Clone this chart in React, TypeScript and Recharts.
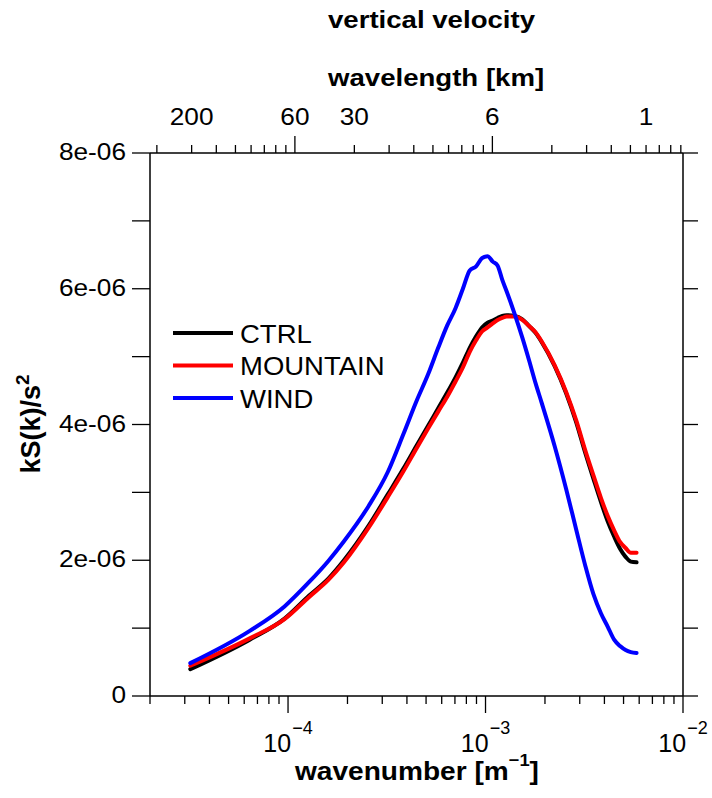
import React from 'react';
import { LineChart, Line, XAxis, YAxis } from 'recharts';

// wavenumber k [m^-1]
const kValues = [
  3.2e-5, 6.4e-5, 9.6e-5, 1.28e-4, 1.6e-4, 1.92e-4, 2.56e-4, 3.2e-4, 3.84e-4, 4.48e-4,
  5.12e-4, 5.76e-4, 6.4e-4, 7.04e-4, 7.68e-4, 8.32e-4, 8.96e-4, 9.6e-4, 1.024e-3, 1.088e-3,
  1.152e-3, 1.216e-3, 1.28e-3, 1.408e-3, 1.536e-3, 1.664e-3, 1.792e-3, 1.92e-3, 2.24e-3, 2.56e-3,
  2.88e-3, 3.2e-3, 3.52e-3, 3.84e-3, 4.16e-3, 4.48e-3, 4.8e-3, 5.12e-3, 5.44e-3, 5.82e-3,
];

const ctrl = [
  0.395e-6, 0.83e-6, 1.14e-6, 1.48e-6, 1.73e-6, 2.0e-6, 2.51e-6, 2.97e-6, 3.35e-6, 3.69e-6,
  3.98e-6, 4.24e-6, 4.47e-6, 4.69e-6, 4.91e-6, 5.13e-6, 5.3e-6, 5.43e-6, 5.5e-6, 5.53e-6,
  5.57e-6, 5.6e-6, 5.61e-6, 5.6e-6, 5.55e-6, 5.45e-6, 5.35e-6, 5.22e-6, 4.86e-6, 4.46e-6,
  4.03e-6, 3.58e-6, 3.2e-6, 2.86e-6, 2.57e-6, 2.35e-6, 2.17e-6, 2.05e-6, 1.98e-6, 1.97e-6,
];

const mountain = [
  0.446e-6, 0.849e-6, 1.132e-6, 1.46e-6, 1.71e-6, 1.97e-6, 2.48e-6, 2.93e-6, 3.31e-6, 3.65e-6,
  3.94e-6, 4.19e-6, 4.41e-6, 4.63e-6, 4.84e-6, 5.07e-6, 5.24e-6, 5.37e-6, 5.43e-6, 5.49e-6,
  5.54e-6, 5.57e-6, 5.59e-6, 5.59e-6, 5.54e-6, 5.45e-6, 5.36e-6, 5.23e-6, 4.87e-6, 4.48e-6,
  4.06e-6, 3.62e-6, 3.25e-6, 2.92e-6, 2.65e-6, 2.44e-6, 2.27e-6, 2.18e-6, 2.11e-6, 2.11e-6,
];

const wind = [
  0.485e-6, 0.96e-6, 1.32e-6, 1.68e-6, 1.99e-6, 2.28e-6, 2.8e-6, 3.3e-6, 3.86e-6, 4.35e-6,
  4.74e-6, 5.13e-6, 5.46e-6, 5.71e-6, 6.0e-6, 6.27e-6, 6.33e-6, 6.45e-6, 6.48e-6, 6.4e-6,
  6.34e-6, 6.13e-6, 5.96e-6, 5.62e-6, 5.28e-6, 4.94e-6, 4.61e-6, 4.33e-6, 3.68e-6, 3.05e-6,
  2.45e-6, 1.92e-6, 1.5e-6, 1.22e-6, 1.02e-6, 0.83e-6, 0.735e-6, 0.677e-6, 0.647e-6, 0.632e-6,
];

const seriesNames = ['CTRL', 'MOUNTAIN', 'WIND'];
const seriesColors = ['#000000', '#ff0000', '#0000ff'];
const seriesKeys = ['ctrl', 'mountain', 'wind'];

// bottom axis ticks (wavenumber)
const bottomTicks = [
  2e-5, 3e-5, 4e-5, 5e-5, 6e-5, 7e-5, 8e-5, 9e-5, 1e-4,
  2e-4, 3e-4, 4e-4, 5e-4, 6e-4, 7e-4, 8e-4, 9e-4, 1e-3,
  2e-3, 3e-3, 4e-3, 5e-3, 6e-3, 7e-3, 8e-3, 9e-3, 1e-2,
];
const bottomExponents = ['', '', '', '', '', '', '', '', '−4', '', '', '', '', '', '', '', '', '−3', '', '', '', '', '', '', '', '', '−2'];

// top axis ticks (wavelength in km)
const topWavelengths = [
  300, 200, 150, 120, 100, 85.71, 75, 66.67, 60,
  30, 20, 15, 12, 10, 8.571, 7.5, 6.667, 6,
  3, 2, 1.5, 1.2, 1, 0.8571, 0.75, 0.6667,
];
const topLabels = ['', '200', '', '', '', '', '', '', '60', '30', '', '', '', '', '', '', '', '6', '', '', '', '', '1', '', '', ''];
const topMajor = [false, false, false, false, false, false, false, false, true, false, false, false, false, false, false, false, false, true, false, false, false, false, false, false, false, false];
const K_PER_INV_KM = 6.5e-3; // k [m^-1] = K_PER_INV_KM / wavelength[km]
const topTicks = topWavelengths.map((w) => K_PER_INV_KM / w);

// y axis
const yTicks = [0, 1e-6, 2e-6, 3e-6, 4e-6, 5e-6, 6e-6, 7e-6, 8e-6];
const yTickLabels = ['0', '', '2e-06', '', '4e-06', '', '6e-06', '', '8e-06'];

const data = kValues.map((k, i) => ({ k, ctrl: ctrl[i], mountain: mountain[i], wind: wind[i] }));

const FONT = 'Liberation Sans, Arial, Helvetica, sans-serif';

const BottomTick = (props: any) => {
  const { x, y, index } = props;
  const exp = bottomExponents[index];
  const major = exp !== '';
  return (
    <g>
      <line x1={x} y1={y} x2={x} y2={y + (major ? 17 : 8)} stroke="#000" strokeWidth={1.3} />
      {major && (
        <text x={x} y={y + 56} textAnchor="middle" fontFamily={FONT} fontSize={25} fill="#000">
          10
          <tspan dx={1} dy={-18} fontSize={18}>{exp}</tspan>
        </text>
      )}
    </g>
  );
};

const TopTick = (props: any) => {
  const { x, y, index } = props;
  const label = topLabels[index];
  const major = topMajor[index];
  return (
    <g>
      <line x1={x} y1={y} x2={x} y2={y - (major ? 17 : 8)} stroke="#000" strokeWidth={1.3} />
      {label !== '' && (
        <text transform={`translate(${x},${y - 28}) scale(1.14,1)`} textAnchor="middle" fontFamily={FONT} fontSize={23} fill="#000">
          {label}
        </text>
      )}
    </g>
  );
};

const LeftTick = (props: any) => {
  const { x, y, index } = props;
  const label = yTickLabels[index];
  return (
    <g>
      <line x1={x - 18} y1={y} x2={x} y2={y} stroke="#000" strokeWidth={1.3} />
      {label !== '' && (
        <text transform={`translate(${x - 24},${y + 7}) scale(1.14,1)`} textAnchor="end" fontFamily={FONT} fontSize={23} fill="#000">
          {label}
        </text>
      )}
    </g>
  );
};

const RightTick = (props: any) => {
  const { x, y } = props;
  return <line x1={x} y1={y} x2={x + 15} y2={y} stroke="#000" strokeWidth={1.3} />;
};

export default function App() {
  return (
    <div style={{ position: 'absolute', left: 0, top: 0, width: 712, height: 798, background: '#fff' }}>
      <LineChart width={712} height={798} data={data} margin={{ top: 93, right: 9, bottom: 42, left: 90 }}>
        <XAxis
          xAxisId="bottom"
          dataKey="k"
          type="number"
          scale="log"
          domain={[2e-5, 1e-2]}
          allowDataOverflow
          ticks={bottomTicks}
          interval={0}
          orientation="bottom"
          height={60}
          tickSize={0}
          tickMargin={0}
          tickLine={false}
          axisLine={{ stroke: '#000', strokeWidth: 1.5 }}
          tick={(p: any) => <BottomTick {...p} />}
        />
        <XAxis
          xAxisId="top"
          dataKey="k"
          type="number"
          scale="log"
          domain={[2e-5, 1e-2]}
          allowDataOverflow
          ticks={topTicks}
          interval={0}
          orientation="top"
          height={60}
          tickSize={0}
          tickMargin={0}
          tickLine={false}
          axisLine={{ stroke: '#000', strokeWidth: 1.5 }}
          tick={(p: any) => <TopTick {...p} />}
        />
        <YAxis
          yAxisId="left"
          type="number"
          domain={[0, 8e-6]}
          allowDataOverflow
          ticks={yTicks}
          interval={0}
          width={60}
          tickSize={0}
          tickMargin={0}
          tickLine={false}
          axisLine={{ stroke: '#000', strokeWidth: 1.5 }}
          tick={(p: any) => <LeftTick {...p} />}
        />
        <YAxis
          yAxisId="right"
          orientation="right"
          type="number"
          domain={[0, 8e-6]}
          allowDataOverflow
          ticks={yTicks}
          interval={0}
          width={20}
          tickSize={0}
          tickMargin={0}
          tickLine={false}
          axisLine={{ stroke: '#000', strokeWidth: 1.5 }}
          tick={(p: any) => <RightTick {...p} />}
        />
        {seriesKeys.map((key, i) => (
          <Line
            key={key}
            xAxisId="bottom"
            yAxisId="left"
            type="monotone"
            dataKey={key}
            name={seriesNames[i]}
            stroke={seriesColors[i]}
            strokeWidth={4}
            strokeLinejoin="round"
            strokeLinecap="round"
            dot={false}
            isAnimationActive={false}
          />
        ))}
      </LineChart>
      <svg width={712} height={798} style={{ position: 'absolute', left: 0, top: 0, pointerEvents: 'none' }}>
        <text transform="translate(328,28) scale(1.2,1)" fontFamily={FONT} fontWeight="bold" fontSize={23} fill="#000">
          vertical velocity
        </text>
        <text transform="translate(328,86) scale(1.2,1)" fontFamily={FONT} fontWeight="bold" fontSize={23} fill="#000">
          wavelength [km]
        </text>
        <text transform="translate(417,780) scale(1.08,1)" textAnchor="middle" fontFamily={FONT} fontWeight="bold" fontSize={26} fill="#000">
          wavenumber [m
          <tspan dy={-14} fontSize={17}>−1</tspan>
          <tspan dy={14}>]</tspan>
        </text>
        <text transform="translate(40,424) rotate(-90)" textAnchor="middle" fontFamily={FONT} fontWeight="bold" fontSize={27} fill="#000">
          kS(k)/s
          <tspan dy={-11} fontSize={19}>2</tspan>
        </text>
        {seriesNames.map((name, i) => (
          <g key={name}>
            <line x1={173} x2={233} y1={333 + i * 32.5} y2={333 + i * 32.5} stroke={seriesColors[i]} strokeWidth={4} />
            <text transform={`translate(240,${342.7 + i * 32.5}) scale(1.1,1)`} fontFamily={FONT} fontSize={25} fill="#000">
              {name}
            </text>
          </g>
        ))}
      </svg>
    </div>
  );
}
